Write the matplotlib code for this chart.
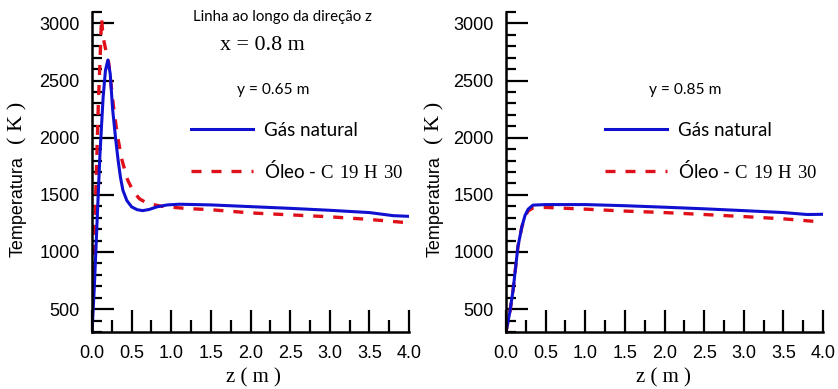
import matplotlib.pyplot as plt
from matplotlib.ticker import MultipleLocator

# temperature along the z line, left: y = 0.65 m, right: y = 0.85 m
z_gas_a = [0, 0.03, 0.06, 0.1, 0.14, 0.17, 0.2, 0.23, 0.26, 0.3, 0.33, 0.36, 0.39, 0.44,
           0.5, 0.57, 0.64, 0.72, 0.82, 0.95, 1.1, 1.5, 2.0, 2.5, 3.0, 3.5, 3.8, 4.0]
t_gas_a = [300, 700, 1200, 1850, 2350, 2590, 2680, 2560, 2250, 1980, 1800, 1650, 1540, 1450,
           1395, 1370, 1362, 1372, 1395, 1412, 1418, 1412, 1397, 1382, 1365, 1345, 1318, 1312]

z_oil_a = [0, 0.01, 0.02, 0.04, 0.06, 0.08, 0.1, 0.12, 0.14, 0.17, 0.21, 0.27, 0.32, 0.38,
           0.45, 0.52, 0.6, 0.7, 0.88, 1.2, 1.5, 2.0, 2.5, 3.0, 3.5, 4.0]
t_oil_a = [450, 700, 1000, 1350, 1800, 2300, 2650, 3050, 2880, 2780, 2660, 2280, 2020, 1800,
           1630, 1530, 1465, 1425, 1400, 1380, 1370, 1342, 1325, 1308, 1285, 1255]

z_gas_b = [0, 0.05, 0.09, 0.15, 0.2, 0.24, 0.28, 0.34, 0.5, 1.0, 1.5, 2.0, 2.5, 3.0, 3.5, 3.8, 4.0]
t_gas_b = [300, 480, 670, 1045, 1220, 1320, 1375, 1410, 1415, 1415, 1405, 1392, 1378, 1362,
           1345, 1328, 1330]

z_oil_b = [0, 0.05, 0.09, 0.15, 0.2, 0.24, 0.28, 0.34, 0.5, 1.0, 1.5, 2.0, 2.5, 3.0, 3.5, 4.0]
t_oil_b = [300, 480, 670, 1045, 1220, 1310, 1360, 1385, 1390, 1375, 1358, 1345, 1328, 1310,
           1290, 1262]

y_labels = ['y = 0.65 m', 'y = 0.85 m']
gas_label = 'Gás natural'
oil_label = r'Óleo - $\mathrm{C\ 19\ H\ 30}$'

plt.rcParams['mathtext.fontset'] = 'custom'
plt.rcParams['mathtext.rm'] = 'Liberation Serif'

W, H = 838, 389
fig = plt.figure(figsize=(W / 100, H / 100), dpi=100)

def fx(px):
    return px / W

def fy(py):
    return 1 - py / H

ax_a = fig.add_axes([fx(92), fy(332), fx(317), 320 / H])
ax_b = fig.add_axes([fx(506), fy(332), fx(317), 320 / H])

panels = [(ax_a, z_gas_a, t_gas_a, z_oil_a, t_oil_a, 174),
          (ax_b, z_gas_b, t_gas_b, z_oil_b, t_oil_b, 588)]

for ax, zg, tg, zo, to, leg_x in panels:
    ax.plot(zo, to, color='#e0101a', lw=2.4, ls=(0, (3, 3)), label=oil_label)
    ax.plot(zg, tg, color='#1010d0', lw=2.2, label=gas_label)
    ax.set_xlim(0, 4.0)
    ax.set_ylim(300, 3100)
    for s in ['top', 'right']:
        ax.spines[s].set_visible(False)
    for s in ['left', 'bottom']:
        ax.spines[s].set_linewidth(1.8)
    ax.xaxis.set_major_locator(MultipleLocator(0.5))
    ax.xaxis.set_minor_locator(MultipleLocator(0.25))
    ax.yaxis.set_minor_locator(MultipleLocator(100))
    ax.set_yticks([500, 1000, 1500, 2000, 2500, 3000])
    ax.xaxis.set_major_formatter(plt.FormatStrFormatter('%.1f'))
    ax.tick_params(which='major', direction='in', length=16, width=1.6, pad=9,
                   labelsize=13)
    ax.tick_params(axis='x', which='minor', direction='in', length=8.5, width=1.6)
    ax.tick_params(axis='y', which='minor', direction='in', length=7, width=1.6)
    for lab in ax.get_xticklabels() + ax.get_yticklabels():
        lab.set_family('Liberation Sans')

    # legend without frame, gas first
    h, l = ax.get_legend_handles_labels()
    ax.legend(h[::-1], l[::-1], frameon=False, prop={'family': 'Lato', 'size': 13.5},
              handlelength=3.3, handletextpad=0.6, labelspacing=1.05,
              loc='upper left', bbox_to_anchor=(fx(leg_x), fy(105)),
              bbox_transform=fig.transFigure)

# axis titles
for x0 in [18, 435]:
    fig.text(fx(x0), fy(207), 'Temperatura', rotation=90, ha='center', va='center',
             family='Liberation Sans', fontsize=13)
    fig.text(fx(x0), fy(123), '( K )', rotation=90, ha='center', va='center',
             family='Liberation Serif', fontsize=16)
for x0 in [253, 663]:
    fig.text(fx(x0), fy(378), 'z ( m )', ha='center', va='center',
             family='Liberation Serif', fontsize=15)

# annotations
fig.text(fx(282), fy(17), 'Linha ao longo da direção z', ha='center', va='center',
         family='Lato', fontsize=10.8)
fig.text(fx(262), fy(45), 'x = 0.8 m', ha='center', va='center',
         family='Liberation Serif', fontsize=15.8)
fig.text(fx(273), fy(90), y_labels[0], ha='center', va='center',
         family='Lato', fontsize=11.2)
fig.text(fx(685), fy(90), y_labels[1], ha='center', va='center',
         family='Lato', fontsize=11.2)

fig.savefig('out.png', dpi=100)
